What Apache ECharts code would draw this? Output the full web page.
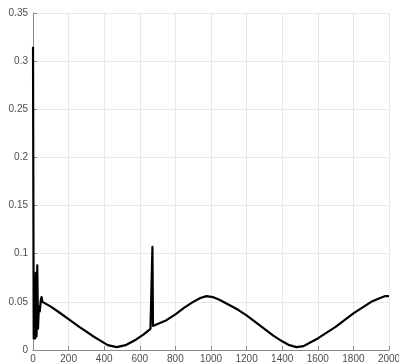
<!DOCTYPE html>
<html>
<head>
<meta charset="utf-8">
<script src="https://cdn.jsdelivr.net/npm/echarts@6/dist/echarts.min.js"></script>
<style>html,body{margin:0;padding:0;background:#fff;}#c{width:399px;height:363px;}</style>
</head>
<body>
<div id="c"></div>
<script>
var xs = [0, 4, 8, 12, 16, 20, 24, 28, 33, 38, 44, 48, 53, 60, 100, 140, 200, 260, 300, 340, 376, 420, 470, 520, 580, 620, 660, 668, 671, 674, 680, 700, 750, 800, 850, 900, 940, 975, 1010, 1050, 1100, 1150, 1200, 1250, 1300, 1350, 1400, 1440, 1480, 1520, 1560, 1600, 1650, 1700, 1750, 1800, 1850, 1900, 1950, 1980, 2000];
var ys = [0.315, 0.012, 0.075, 0.012, 0.080, 0.014, 0.088, 0.022, 0.045, 0.040, 0.052, 0.055, 0.050, 0.049, 0.045, 0.040, 0.032, 0.024, 0.019, 0.014, 0.010, 0.005, 0.003, 0.005, 0.011, 0.016, 0.022, 0.024, 0.107, 0.025, 0.025, 0.027, 0.031, 0.037, 0.044, 0.050, 0.054, 0.056, 0.055, 0.052, 0.047, 0.042, 0.036, 0.029, 0.022, 0.015, 0.009, 0.005, 0.003, 0.004, 0.008, 0.012, 0.018, 0.024, 0.031, 0.038, 0.044, 0.050, 0.054, 0.056, 0.056];
var xTickInterval = 200;
var yTickInterval = 0.05;

var data = xs.map(function (x, i) { return [x, ys[i]]; });
var chart = echarts.init(document.getElementById('c'));
var axisCommon = {
  axisLine: { show: true, lineStyle: { color: '#8a8a8a', width: 1 } },
  axisTick: { show: true, inside: true, length: 4, lineStyle: { color: '#8a8a8a' } },
  splitLine: { show: true, lineStyle: { color: '#e8e8e8', width: 1 } },
  axisLabel: { color: '#4d4d4d', fontSize: 10, fontFamily: 'Liberation Sans, Arial, sans-serif' }
};
chart.setOption({
  animation: false,
  grid: { left: 33, right: 10, top: 13, bottom: 13, containLabel: false, outerBoundsMode: 'none' },
  xAxis: Object.assign({ type: 'value', min: 0, max: 2000, interval: xTickInterval }, axisCommon, {
    axisLabel: Object.assign({}, axisCommon.axisLabel, { margin: 4, formatter: function (v) { return String(v); } })
  }),
  yAxis: Object.assign({ type: 'value', min: 0, max: 0.35, interval: yTickInterval }, axisCommon, {
    axisLabel: Object.assign({}, axisCommon.axisLabel, { margin: 5, formatter: function (v) { return String(+v.toFixed(2)); } })
  }),
  series: [{
    type: 'line',
    data: data,
    showSymbol: false,
    symbol: 'none',
    lineStyle: { color: '#000', width: 2.2, join: 'round' },
    clip: true
  }]
});
</script>
</body>
</html>
